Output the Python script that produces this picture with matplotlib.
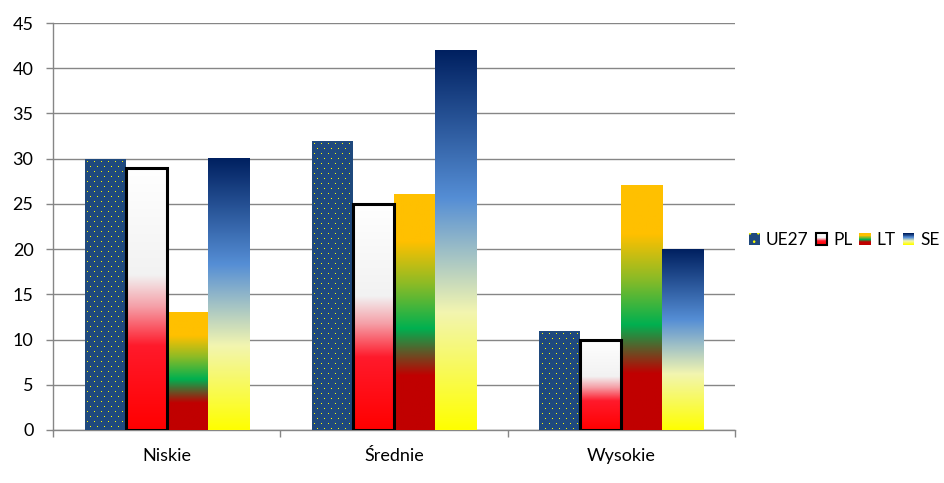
import numpy as np
import matplotlib
matplotlib.use('Agg')
import matplotlib.pyplot as plt
from matplotlib.colors import to_rgba
from matplotlib.patches import Rectangle
from matplotlib.legend_handler import HandlerBase

categories = ['Niskie', 'Średnie', 'Wysokie']
series = ['UE27', 'PL', 'LT', 'SE']
ue27 = [30, 32, 11]
pl = [29, 25, 10]
lt = [13, 26, 27]
se = [30, 42, 20]
yticks = list(range(0, 50, 5))

plt.rcParams['font.family'] = ['Lato', 'DejaVu Sans']
plt.rcParams['hatch.linewidth'] = 0.6

UE_COLOR = '#1F497D'
DOT_COLOR = '#FFFF00'
GRID = '#868686'

PL_STOPS = [(0.0, '#FF0000'), (0.32, '#FF1A2B'), (0.47, '#F5A0A8'), (0.59, '#F2F2F2'), (1.0, '#FFFFFF')]
LT_STOPS = [(0.0, '#C00000'), (0.23, '#C00000'), (0.43, '#00B050'), (0.62, '#8CBB26'), (0.80, '#FFC000'), (1.0, '#FFC000')]
SE_STOPS = [(0.0, '#FFFF00'), (0.31, '#F2F5B0'), (0.45, '#A8C6C4'), (0.61, '#558ED5'), (1.0, '#002060')]


def ramp(stops, n=256):
    pos = np.array([s[0] for s in stops])
    cols = np.array([to_rgba(s[1]) for s in stops])
    t = np.linspace(0, 1, n)
    out = np.stack([np.interp(t, pos, cols[:, c]) for c in range(4)], axis=1)
    return out


class GradHandler(HandlerBase):
    def __init__(self, stops, edge=None, n=24):
        super().__init__()
        self.stops = stops
        self.edge = edge
        self.n = n

    def create_artists(self, legend, orig_handle, xdescent, ydescent,
                       width, height, fontsize, trans):
        cols = ramp(self.stops, self.n)
        arts = []
        for k in range(self.n):
            r = Rectangle((-xdescent, -ydescent + height * k / self.n), width,
                          height / self.n * 1.05, facecolor=cols[k],
                          edgecolor='none', transform=trans)
            arts.append(r)
        if self.edge:
            arts.append(Rectangle((-xdescent, -ydescent), width, height,
                                  facecolor='none', edgecolor=self.edge,
                                  linewidth=1.5, transform=trans))
        return arts


fig = plt.figure(figsize=(9.44, 4.83), dpi=100)
ax = fig.add_axes([53 / 944, 1 - 430 / 483, (735 - 53) / 944, (430 - 23) / 483])

w = 41 / 227
x = np.arange(len(categories))
offs = (np.arange(4) - 1.5) * w

ax.set_xlim(-0.5, len(categories) - 0.5)
ax.set_ylim(0, 45)

# UE27: solid dark-blue bars with a yellow dot texture on top
ax.bar(x + offs[0], ue27, width=w, color=UE_COLOR, linewidth=0, zorder=3)


def dot_texture(xs, vals):
    dot = np.array(to_rgba(DOT_COLOR))
    for xi, v in zip(xs, vals):
        (px0, py0), (px1, py1) = ax.transData.transform([(xi - w / 2, 0), (xi + w / 2, v)])
        ix0, iy0 = int(np.ceil(px0)), int(np.ceil(py0)) + 1
        nx = int(np.floor(px1)) - ix0 - 1
        ny = int(np.floor(py1)) - iy0
        img = np.zeros((ny, nx, 4))
        rr, cc = np.mgrid[0:ny, 0:nx]
        rt = ny - 1 - rr
        mask = ((rt % 10 == 2) & (cc % 7 == 2)) | ((rt % 10 == 7) & (cc % 7 == 5))
        img[mask] = dot
        fig.figimage(img, xo=ix0, yo=iy0, origin='lower', zorder=1)


def grad_bars(xs, vals, stops):
    arr = ramp(stops)[:, None, :]
    for xi, v in zip(xs, vals):
        ax.imshow(arr, extent=[xi - w / 2, xi + w / 2, 0, v], origin='lower',
                  aspect='auto', interpolation='bilinear', zorder=3)


dot_texture(x + offs[0], ue27)
grad_bars(x + offs[1], pl, PL_STOPS)
ax.bar(x + offs[1], pl, width=w, facecolor='none', edgecolor='black',
       linewidth=2.2, zorder=4)
grad_bars(x + offs[2], lt, LT_STOPS)
grad_bars(x + offs[3], se, SE_STOPS)

ax.set_xlim(-0.5, len(categories) - 0.5)
ax.set_ylim(0, 45)
ax.set_yticks(yticks)
ax.yaxis.grid(True, color=GRID, linewidth=1.0)
ax.set_axisbelow(True)

FS = 13
ax.set_xticks(np.arange(len(categories) + 1) - 0.5)
ax.set_xticklabels([])
ax.set_xticks(x, minor=True)
ax.set_xticklabels(categories, minor=True)
ax.tick_params(axis='x', which='major', length=5, color=GRID, width=1)
ax.tick_params(axis='x', which='minor', length=0, pad=13, labelsize=FS)
ax.tick_params(axis='y', length=5, color=GRID, width=1, pad=9, labelsize=FS)

for s in ['top', 'right']:
    ax.spines[s].set_visible(False)
for s in ['left', 'bottom']:
    ax.spines[s].set_color(GRID)
    ax.spines[s].set_linewidth(1.0)

# legend
h_ue = Rectangle((0, 0), 1, 1, facecolor=UE_COLOR, edgecolor=DOT_COLOR,
                 linewidth=0, hatch='..')
h_pl = Rectangle((0, 0), 1, 1)
h_lt = Rectangle((0, 0), 1, 1)
h_se = Rectangle((0, 0), 1, 1)
hmap = {h_pl: GradHandler(PL_STOPS, edge='black'),
        h_lt: GradHandler(LT_STOPS),
        h_se: GradHandler(SE_STOPS)}
fig.legend([h_ue, h_pl, h_lt, h_se], series, handler_map=hmap,
           loc='center left', bbox_to_anchor=(747 / 944, 1 - 240 / 483),
           ncol=4, frameon=False, fontsize=12.5, handlelength=0.65,
           handleheight=0.65, handletextpad=0.35, columnspacing=0.4,
           borderpad=0.1, borderaxespad=0)

fig.savefig('out.png', dpi=100)
